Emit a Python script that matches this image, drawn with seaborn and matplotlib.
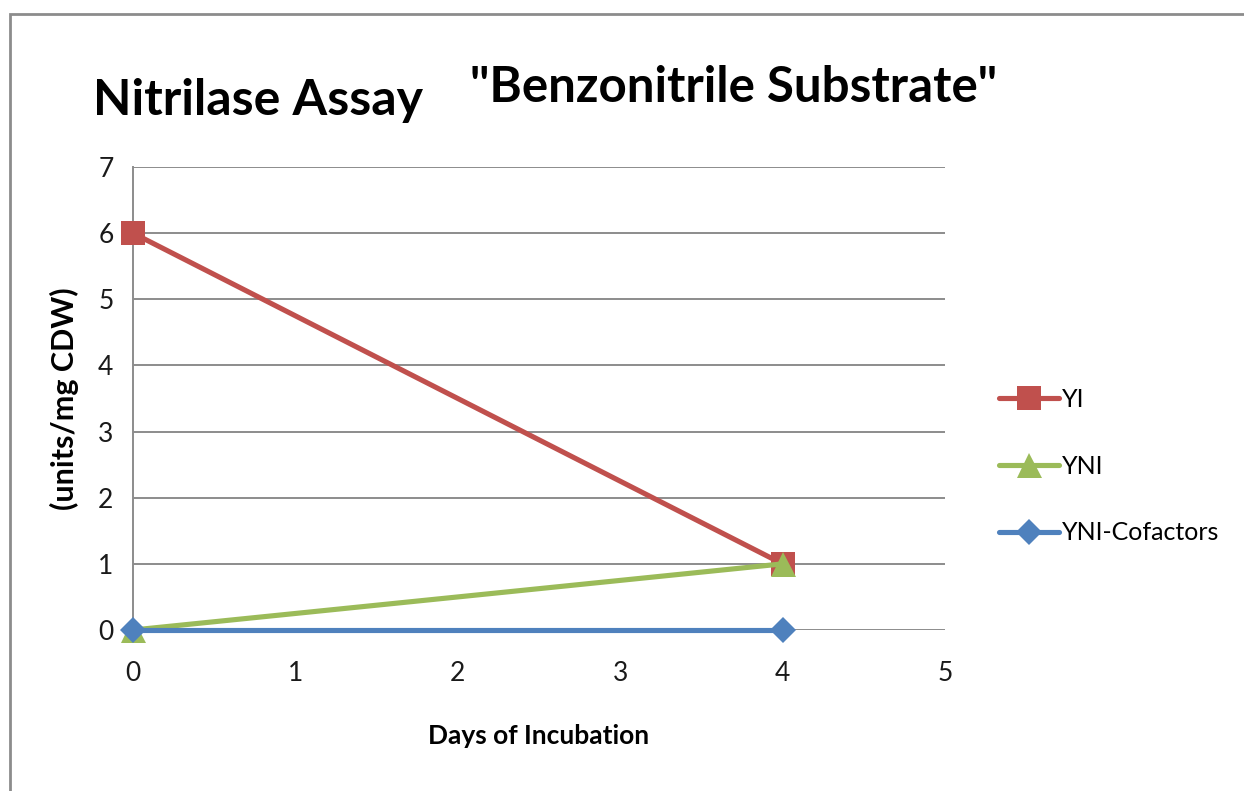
import pandas as pd
import seaborn as sns
import numpy as np
import matplotlib.pyplot as plt
from matplotlib.patches import Rectangle

# values
days = [0, 4]
yi = [6, 1]
yni = [0, 1]
yni_cof = [0, 0]
series_names = ['YI', 'YNI', 'YNI-Cofactors']
series_colors = ['#C0504D', '#9BBB59', '#4F81BD']
series_markers = ['s', '^', 'D']

daten = pd.DataFrame({'Days': days * 3,
                      'Wert': yi + yni + yni_cof,
                      'Serie': [n for n in series_names for _ in days]})

sns.set_style('white')
plt.rcParams['font.family'] = ['Lato', 'DejaVu Sans']
plt.rcParams['text.color'] = 'black'
plt.rcParams['axes.labelcolor'] = 'black'

fig = plt.figure(figsize=(12.44, 7.91), dpi=100)
ax = fig.add_axes([133 / 1244, 1 - 630 / 791, (945 - 133) / 1244, (630 - 167) / 791])

# Rahmen um die Grafik
fig.patches.append(Rectangle((10 / 1244, -0.1), 1.2, 1 - 14 / 791 + 0.1,
                             transform=fig.transFigure, fill=False,
                             edgecolor='#8c8c8c', linewidth=2))

msize = {'s': 17, '^': 18, 'D': 13}
for name, col, mk in zip(series_names, series_colors, series_markers):
    sns.lineplot(ax=ax, data=daten[daten['Serie'] == name],
                 x='Days', y='Wert', color=col, marker=mk,
                 markersize=msize[mk], markeredgewidth=0,
                 linewidth=3.7, label=name, clip_on=False, zorder=3)

ax.set_xlim(0, 5)
ax.set_ylim(0, 7)
ax.set_xticks(range(0, 6))
ax.set_yticks(range(0, 8))
ax.yaxis.grid(True, color='#8c8c8c', linewidth=1.4)
ax.xaxis.grid(False)
for s in ['top', 'right', 'bottom']:
    ax.spines[s].set_visible(False)
ax.spines['left'].set_color('#8c8c8c')
ax.spines['left'].set_linewidth(1.4)
ax.tick_params(axis='both', length=0, labelsize=19, colors='#1a1a1a')
ax.tick_params(axis='x', pad=22)
ax.tick_params(axis='y', pad=14)

ax.set_xlabel('Days of Incubation', fontsize=19, fontweight='bold', labelpad=28)
ax.set_ylabel('(units/mg CDW)', fontsize=22, fontweight='bold', labelpad=14)

fig.text(93 / 1244, 1 - 115 / 791, 'Nitrilase Assay', fontsize=36,
         fontweight='bold', va='baseline', ha='left')
fig.text(470 / 1244, 1 - 102 / 791, '"Benzonitrile Substrate"', fontsize=35.5,
         fontweight='bold', va='baseline', ha='left')

ax.legend(loc='center left', bbox_to_anchor=(986 / 1244, 1 - 466 / 791),
          bbox_transform=fig.transFigure, frameon=False, fontsize=18,
          handlelength=2.4, handletextpad=0.15, labelspacing=1.75,
          borderpad=0)

fig.savefig('out.png', dpi=100)
